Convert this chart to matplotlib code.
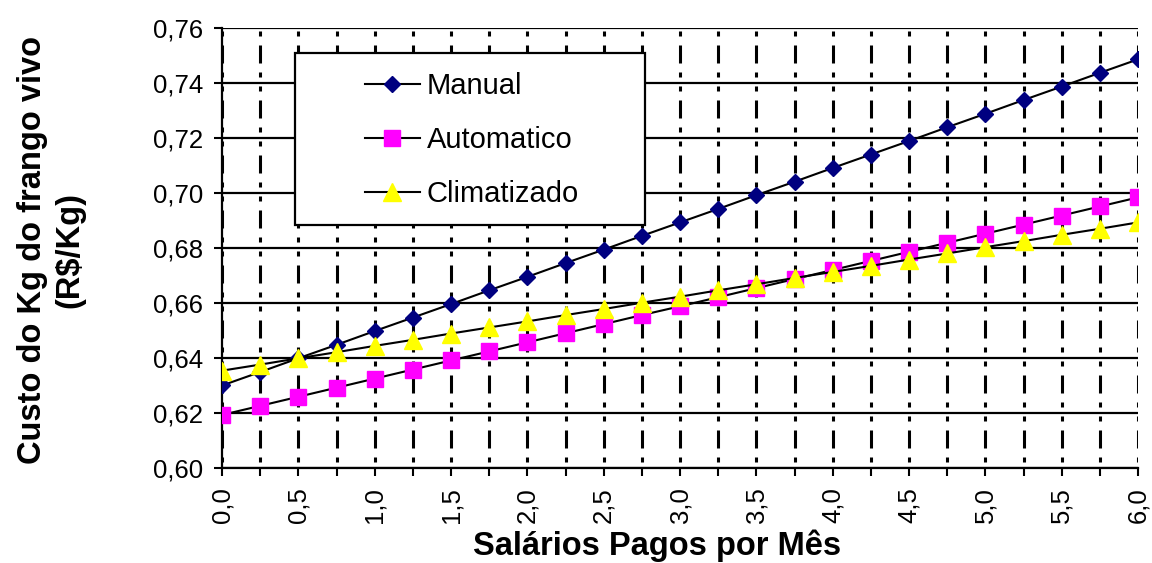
import matplotlib
matplotlib.use("Agg")
import matplotlib.pyplot as plt
from matplotlib.ticker import MultipleLocator, FuncFormatter
from matplotlib.patches import Rectangle

plt.rcParams['font.family'] = ['Liberation Sans', 'DejaVu Sans']
plt.rcParams['lines.scale_dashes'] = False

# Salários pagos por mês (eixo x)
salarios = [0.0, 0.25, 0.5, 0.75, 1.0, 1.25, 1.5, 1.75, 2.0, 2.25, 2.5, 2.75,
            3.0, 3.25, 3.5, 3.75, 4.0, 4.25, 4.5, 4.75, 5.0, 5.25, 5.5, 5.75, 6.0]

# Custo do kg do frango vivo (R$/kg) por sistema
manual = [0.6300, 0.6349, 0.6399, 0.6448, 0.6498, 0.6547, 0.6596, 0.6646, 0.6695,
          0.6745, 0.6794, 0.6844, 0.6893, 0.6942, 0.6992, 0.7041, 0.7091, 0.7140,
          0.7189, 0.7239, 0.7288, 0.7338, 0.7387, 0.7437, 0.7486]
automatico = [0.6193, 0.6226, 0.6259, 0.6292, 0.6325, 0.6358, 0.6391, 0.6424, 0.6457,
              0.6490, 0.6523, 0.6556, 0.6588, 0.6621, 0.6654, 0.6687, 0.6720, 0.6753,
              0.6786, 0.6819, 0.6852, 0.6885, 0.6918, 0.6951, 0.6984]
climatizado = [0.6354, 0.6376, 0.6399, 0.6421, 0.6444, 0.6466, 0.6489, 0.6511, 0.6533,
               0.6556, 0.6578, 0.6601, 0.6623, 0.6646, 0.6668, 0.6691, 0.6713, 0.6735,
               0.6758, 0.6780, 0.6803, 0.6825, 0.6848, 0.6870, 0.6893]

series_names = ["Manual", "Automatico", "Climatizado"]

fig = plt.figure(figsize=(11.52, 5.63), dpi=100)
ax = fig.add_axes([222 / 1152, 95 / 563, 916 / 1152, 440 / 563])

ax.set_xlim(0, 6)
ax.set_ylim(0.60, 0.76)

# grid: solid horizontal lines, dash-dot-dot vertical lines every 0.25
ax.xaxis.set_major_locator(MultipleLocator(0.5))
ax.xaxis.set_minor_locator(MultipleLocator(0.25))
ax.yaxis.set_major_locator(MultipleLocator(0.02))
ax.grid(axis='y', which='major', color='black', linewidth=1.6, linestyle='-')
dash = (35.28, (3.6, 6.48, 12.96, 6.48, 3.6, 6.48))
ax.grid(axis='x', which='both', color='black', linewidth=2.2, linestyle=dash)

for side in ['top', 'right']:
    ax.spines[side].set_visible(False)
for side in ['left', 'bottom']:
    ax.spines[side].set_linewidth(1.6)

ax.tick_params(axis='both', which='both', direction='out', length=5.8, width=1.5,
               colors='black', labelsize=18.5)
ax.tick_params(axis='y', pad=8)
ax.tick_params(axis='x', pad=8, labelrotation=90)

ax.xaxis.set_major_formatter(FuncFormatter(lambda v, p: f"{v:.1f}".replace('.', ',')))
ax.yaxis.set_major_formatter(FuncFormatter(lambda v, p: f"{v:.2f}".replace('.', ',')))

ax.plot(salarios, manual, color='black', linewidth=1.5, marker='D', markersize=8.6,
        markerfacecolor='#000080', markeredgecolor='#000080', label=series_names[0], zorder=3)
ax.plot(salarios, automatico, color='black', linewidth=1.5, marker='s', markersize=11.5,
        markerfacecolor='#FF00FF', markeredgecolor='#FF00FF', label=series_names[1], zorder=3)
ax.plot(salarios, climatizado, color='black', linewidth=1.5, marker='^', markersize=13,
        markerfacecolor='#FFFF00', markeredgecolor='#FFFF00', label=series_names[2], zorder=3)

# legend box
ax.add_patch(Rectangle((0.0797, 0.5523), 0.3821, 0.3916, transform=ax.transAxes,
                       facecolor='white', edgecolor='black', linewidth=1.6, zorder=4))
leg = ax.legend(loc='center left', bbox_to_anchor=(0.1561, 0.7455), frameon=False,
                borderpad=0, borderaxespad=0, fontsize=21, handlelength=1.88,
                handletextpad=0.24, labelspacing=0.90)
leg.set_zorder(5)

fig.text(657 / 1152, 8 / 563, "Salários Pagos por Mês", ha='center', va='baseline',
         fontsize=23.5, fontweight='bold')
fig.text(51 / 1152, 313 / 563, "Custo do Kg do frango vivo\n(R$/Kg)", ha='center',
         va='center', rotation=90, fontsize=23.5, fontweight='bold',
         multialignment='center', linespacing=1.25)

fig.savefig("out.png", dpi=100)
